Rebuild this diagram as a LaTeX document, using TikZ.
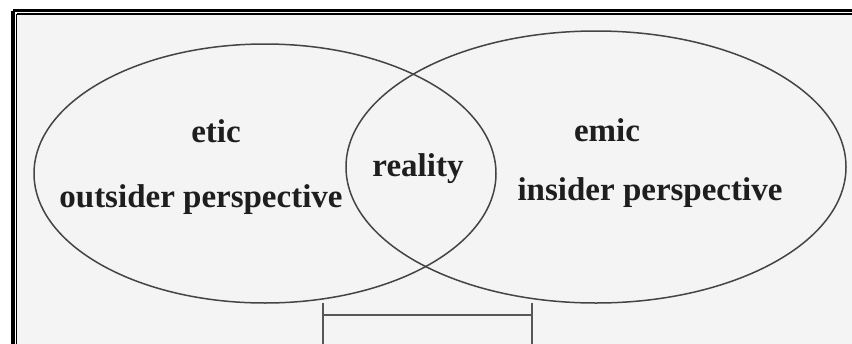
\documentclass[tikz,border=0pt]{standalone}
\usepackage{fontspec}
\setmainfont{Liberation Serif}
\definecolor{paper}{HTML}{F4F4F4}
\definecolor{ink}{HTML}{444444}
\definecolor{txt}{HTML}{1E1E1E}
\begin{document}
\begin{tikzpicture}[x=1pt,y=-1pt,
  lbl/.style={anchor=base,inner sep=0pt,text=txt,font=\bfseries\fontsize{33}{36}\selectfont},
  ring/.style={draw=ink,line width=1.5pt},
  brk/.style={draw=ink!90,line width=1.4pt}]
\useasboundingbox (0,0) rectangle (852,343);
\clip (0,0) rectangle (852,343);
\fill[white] (0,0) rectangle (852,343);
\fill[paper] (17,14) rectangle (900,400);
% frame
\draw[black,line width=3.5pt] (13,10.5) -- (900,10.5);
\draw[black,line width=3.5pt] (13,10.5) -- (13,400);
\draw[black,line width=1.2pt] (16.5,14) -- (900,14);
\draw[black,line width=1.2pt] (16.5,14) -- (16.5,400);
% ellipses
\draw[ring] (265,173.5) ellipse [x radius=231, y radius=129.5];
\draw[ring] (596,167) ellipse [x radius=250, y radius=136];
% texts
\node[lbl] (etic) at (216,142) {etic};
\node[lbl] (out) at (201,207) {outsider perspective};
\node[lbl] (real) at (418,176) {reality};
\node[lbl] (emic) at (607,141) {emic};
\node[lbl] (ins) at (650,200) {insider perspective};
% bracket
\coordinate (bl) at (323,315);
\coordinate (br) at (532,315);
\coordinate (blt) at (323,303);
\coordinate (blb) at (323,345);
\coordinate (brt) at (532,303);
\coordinate (brb) at (532,345);
\draw[brk] (bl) -- (br);
\draw[brk] (blt) -- (blb);
\draw[brk] (brt) -- (brb);
\end{tikzpicture}
\end{document}
